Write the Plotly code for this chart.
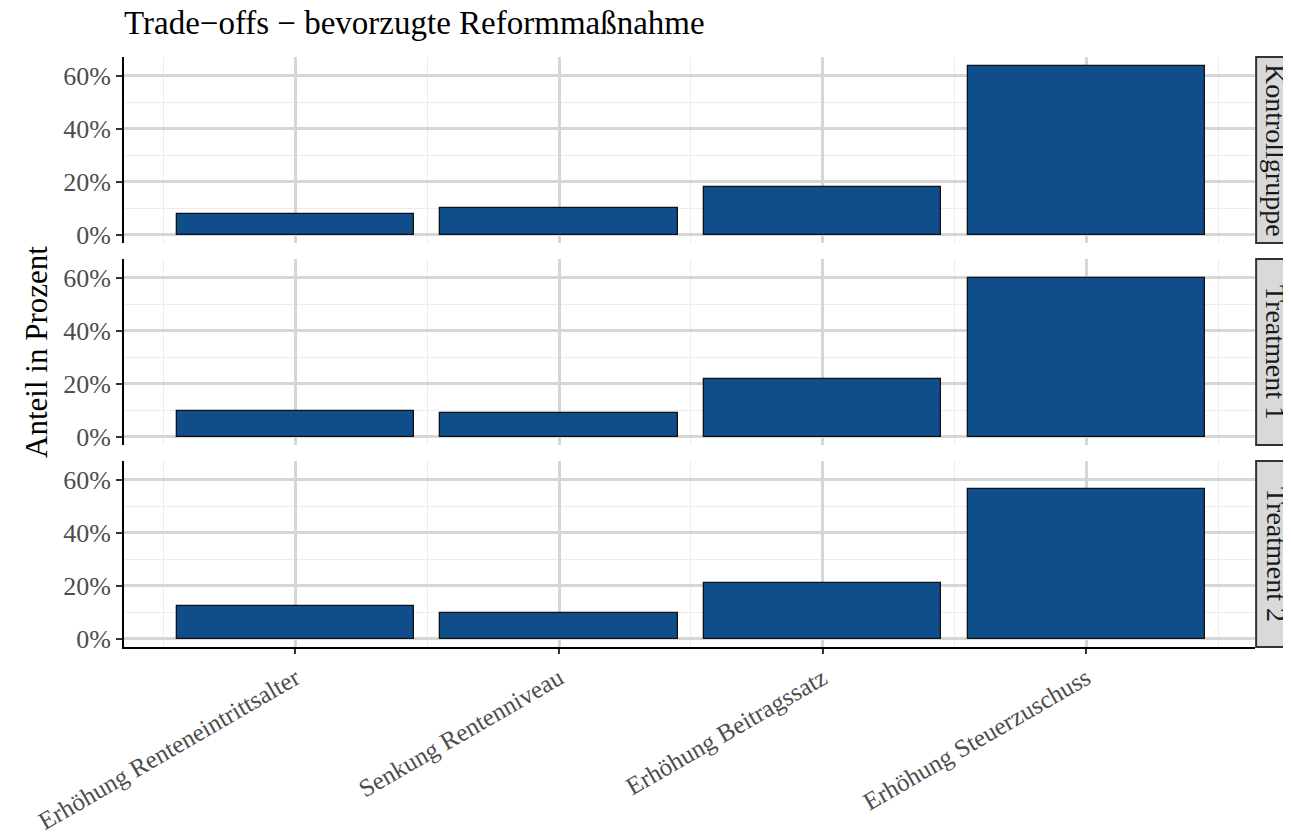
import plotly.graph_objects as go
from plotly.subplots import make_subplots

categories = ['Erhöhung Renteneintrittsalter', 'Senkung Rentenniveau',
              'Erhöhung Beitragssatz', 'Erhöhung Steuerzuschuss']
groups = ['Kontrollgruppe', 'Treatment 1', 'Treatment 2']
kontrollgruppe = [7.6, 10.1, 17.9, 63.7]
treatment_1 = [9.7, 8.8, 21.9, 59.7]
treatment_2 = [12.3, 9.7, 21.0, 56.5]
y_ticks = [0, 20, 40, 60]
y_ticklabels = ['0%', '20%', '40%', '60%']

values = [kontrollgruppe, treatment_1, treatment_2]
xpos = list(range(len(categories)))

FONT = 'Liberation Serif'
spacing = 0.027

fig = make_subplots(rows=3, cols=1, shared_xaxes=True, vertical_spacing=spacing)

for i, vals in enumerate(values):
    fig.add_trace(
        go.Bar(
            x=xpos, y=vals, width=0.9,
            marker=dict(color='#104E8B', line=dict(color='#111111', width=1.3)),
            showlegend=False,
        ), row=i + 1, col=1)

    fig.update_yaxes(
        range=[-3.19, 67.0], tickvals=y_ticks, ticktext=y_ticklabels,
        tickfont=dict(family=FONT, size=26, color='#4d4d4d'),
        showgrid=True, gridcolor='#d6d6d6', gridwidth=3,
        minor=dict(dtick=10, tick0=0, showgrid=True, gridcolor='#ececec', gridwidth=1),
        showline=True, linecolor='black', linewidth=2,
        ticks='outside', ticklen=6, tickwidth=2, tickcolor='#333333',
        zeroline=False, automargin=False, row=i + 1, col=1)

    fig.update_xaxes(
        range=[-0.65, 3.64], tickvals=xpos, ticktext=categories,
        showgrid=True, gridcolor='#d6d6d6', gridwidth=3,
        minor=dict(tickvals=[-0.5, 0.5, 1.5, 2.5, 3.5], showgrid=True,
                   gridcolor='#ececec', gridwidth=1),
        zeroline=False, automargin=False, row=i + 1, col=1)

# only the bottom panel shows the x axis
fig.update_xaxes(showticklabels=False, showline=False, ticks='', row=1, col=1)
fig.update_xaxes(showticklabels=False, showline=False, ticks='', row=2, col=1)
fig.update_xaxes(
    showticklabels=True, tickangle=-30,
    tickfont=dict(family=FONT, size=25, color='#4d4d4d'),
    showline=True, linecolor='black', linewidth=2,
    ticks='outside', ticklen=5, tickwidth=2, tickcolor='#333333',
    row=3, col=1)

fig.update_yaxes(
    title=dict(text='Anteil in Prozent', font=dict(family=FONT, size=31, color='black'),
               standoff=6),
    row=2, col=1)

# facet strips on the right
h = (1 - 2 * spacing) / 3
for i, g in enumerate(groups):
    top = 1 - i * (h + spacing)
    bottom = top - h
    fig.add_shape(type='rect', xref='paper', yref='paper',
                  x0=1.001, x1=1.05, y0=bottom, y1=top,
                  fillcolor='#d9d9d9', line=dict(color='#333333', width=2))
    fig.add_annotation(text=g, xref='paper', yref='paper', x=1.0186, y=(top + bottom) / 2,
                       xanchor='center', yanchor='middle',
                       textangle=90, showarrow=False,
                       font=dict(family=FONT, size=28, color='#1a1a1a'))

# page body has an 8px margin, so the figure is shrunk by that amount
fig.update_layout(
    width=1283, height=831,
    margin=dict(l=116, r=36, t=49, b=192),
    paper_bgcolor='white', plot_bgcolor='white',
    bargap=0,
    title=dict(text='Trade−offs − bevorzugte Reformmaßnahme',
               font=dict(family=FONT, size=33, color='black'),
               xref='paper', x=0, xanchor='left',
               yref='container', y=1, yanchor='top', pad=dict(t=3)),
)

fig.write_html('out.html')
